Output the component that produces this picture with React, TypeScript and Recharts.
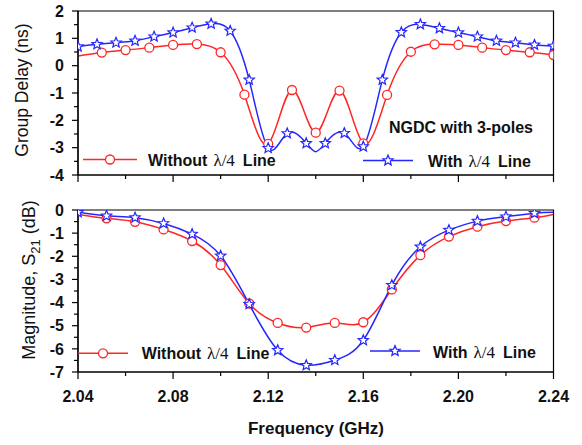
import React from 'react';
import { LineChart, Line, XAxis, YAxis, ReferenceArea } from 'recharts';

const RED = '#ff2626';
const BLUE = '#2626ff';
const FONT = '"Liberation Sans", Arial, sans-serif';

// Frequency axis (GHz)
const freqTicks = [2.04, 2.06, 2.08, 2.1, 2.12, 2.14, 2.16, 2.18, 2.2, 2.22, 2.24];
const freqLabels = ['2.04', '2.08', '2.12', '2.16', '2.20', '2.24'];

// Group delay panel (ns)
const gdTicks = [-4, -3.5, -3, -2.5, -2, -1.5, -1, -0.5, 0, 0.5, 1, 1.5, 2];
const gdRedFreq = [2.05, 2.06, 2.07, 2.08, 2.09, 2.1, 2.11, 2.12, 2.13, 2.14, 2.15, 2.16, 2.17, 2.18, 2.19, 2.2, 2.21, 2.22, 2.23, 2.24];
const gdRedVal = [0.48, 0.57, 0.66, 0.76, 0.79, 0.49, -1.06, -2.86, -0.89, -2.45, -0.91, -2.84, -1.07, 0.51, 0.78, 0.76, 0.66, 0.57, 0.49, 0.39];
const gdRedEdgeFreq = [2.04];
const gdRedEdgeVal = [0.35];
const gdBlueFreq = [2.04, 2.048, 2.056, 2.064, 2.072, 2.08, 2.088, 2.096, 2.104, 2.112, 2.12, 2.128, 2.136, 2.144, 2.152, 2.16, 2.168, 2.176, 2.184, 2.192, 2.2, 2.208, 2.216, 2.224, 2.232, 2.24];
const gdBlueVal = [0.7, 0.78, 0.84, 0.91, 1.06, 1.21, 1.39, 1.53, 1.27, -0.52, -3.02, -2.48, -2.84, -2.84, -2.47, -2.96, -0.52, 1.22, 1.51, 1.37, 1.21, 1.06, 0.91, 0.84, 0.76, 0.72];
const gdBlueDipFreq = [2.14];
const gdBlueDipVal = [-3.15];

// Magnitude panel (dB)
const magTicks = [-7, -6.5, -6, -5.5, -5, -4.5, -4, -3.5, -3, -2.5, -2, -1.5, -1, -0.5, 0];
const magRedFreq = [2.052, 2.064, 2.076, 2.088, 2.1, 2.112, 2.124, 2.136, 2.148, 2.16, 2.172, 2.184, 2.196, 2.208, 2.22, 2.232];
const magRedVal = [-0.36, -0.51, -0.84, -1.34, -2.38, -4.04, -4.88, -5.08, -4.88, -4.85, -3.43, -1.95, -1.15, -0.72, -0.48, -0.33];
const magRedEdgeFreq = [2.04, 2.24];
const magRedEdgeVal = [-0.19, -0.19];
const magBlueFreq = [2.04, 2.052, 2.064, 2.076, 2.088, 2.1, 2.112, 2.124, 2.136, 2.148, 2.16, 2.172, 2.184, 2.196, 2.208, 2.22, 2.232];
const magBlueVal = [-0.1, -0.25, -0.33, -0.58, -1.04, -1.98, -4.07, -6.06, -6.71, -6.49, -5.63, -3.25, -1.59, -0.87, -0.48, -0.29, -0.14];
const magBlueEdgeFreq = [2.24];
const magBlueEdgeVal = [-0.1];

type Pt = { f: number; v: number };
const toPts = (fs: number[], vs: number[]): Pt[] => fs.map((f, i) => ({ f, v: vs[i] }));
const merge = (a: Pt[], b: Pt[]): Pt[] => [...a, ...b].sort((p, q) => p.f - q.f);

const gdRedMarks = toPts(gdRedFreq, gdRedVal);
const gdRedCurve = merge(gdRedMarks, toPts(gdRedEdgeFreq, gdRedEdgeVal));
const gdBlueMarks = toPts(gdBlueFreq, gdBlueVal);
const gdBlueCurve = merge(gdBlueMarks, toPts(gdBlueDipFreq, gdBlueDipVal));
const magRedMarks = toPts(magRedFreq, magRedVal);
const magRedCurve = merge(magRedMarks, toPts(magRedEdgeFreq, magRedEdgeVal));
const magBlueMarks = toPts(magBlueFreq, magBlueVal);
const magBlueCurve = merge(magBlueMarks, toPts(magBlueEdgeFreq, magBlueEdgeVal));

function starPoints(cx: number, cy: number, ro: number, ri: number) {
  const pts: string[] = [];
  for (let i = 0; i < 10; i++) {
    const r = i % 2 === 0 ? ro : ri;
    const a = -Math.PI / 2 + (i * Math.PI) / 5;
    pts.push(`${(cx + r * Math.cos(a)).toFixed(2)},${(cy + r * Math.sin(a)).toFixed(2)}`);
  }
  return pts.join(' ');
}

const StarDot = (props: any) => {
  const { cx, cy } = props;
  if (cx == null || cy == null) return <g key={props.index} />;
  return <polygon key={props.index} points={starPoints(cx, cy, 5.4, 2.4)} fill="#fff" stroke={BLUE} strokeWidth={1.2} />;
};
const CircleDot = (props: any) => {
  const { cx, cy } = props;
  if (cx == null || cy == null) return <g key={props.index} />;
  return <circle key={props.index} cx={cx} cy={cy} r={4.5} fill="#fff" stroke={RED} strokeWidth={1.3} />;
};

const XTick = (props: any) => {
  const { x, y, payload, showLabel } = props;
  const v = payload.value as number;
  const hundred = Math.round(v * 100);
  const major = hundred % 4 === 0;
  const label = (v).toFixed(2);
  return (
    <g>
      <line x1={x} y1={y} x2={x} y2={y + (major ? 7 : 4)} stroke="#000" strokeWidth={1.2} />
      {showLabel && major && freqLabels.includes(label) ? (
        <text x={x} y={y + 29.5} textAnchor="middle" fontFamily={FONT} fontWeight="bold" fontSize={16} fill="#111">
          {label}
        </text>
      ) : null}
    </g>
  );
};

const YTick = (props: any) => {
  const { x, y, payload } = props;
  const v = payload.value as number;
  const major = Number.isInteger(v);
  return (
    <g>
      <line x1={x} y1={y} x2={x - (major ? 6 : 4)} y2={y} stroke="#000" strokeWidth={1.2} />
      {major ? (
        <text x={x - 14} y={y + 5.7} textAnchor="end" fontFamily={FONT} fontWeight="bold" fontSize={16} fill="#111">
          {String(v)}
        </text>
      ) : null}
    </g>
  );
};

const axisLine = { stroke: '#000', strokeWidth: 1.2 };

const series = (red: Pt[], redM: Pt[], blue: Pt[], blueM: Pt[]) => [
  <Line key="rc" data={red} dataKey="v" type="natural" stroke={RED} strokeWidth={1.5} dot={false} isAnimationActive={false} />,
  <Line key="rm" data={redM} dataKey="v" stroke="none" dot={(p: any) => <CircleDot key={'r' + p.index} {...p} />} isAnimationActive={false} />,
  <Line key="bc" data={blue} dataKey="v" type="natural" stroke={BLUE} strokeWidth={1.5} dot={false} isAnimationActive={false} />,
  <Line key="bm" data={blueM} dataKey="v" stroke="none" dot={(p: any) => <StarDot key={'b' + p.index} {...p} />} isAnimationActive={false} />,
];

const LegendItem = ({ x1, x2, y, tx, ty, kind }: any) => (
  <g>
    <line x1={x1} y1={y} x2={x2} y2={y} stroke={kind === 'red' ? RED : BLUE} strokeWidth={1.5} />
    {kind === 'red' ? (
      <circle cx={(x1 + x2) / 2} cy={y} r={4.5} fill="#fff" stroke={RED} strokeWidth={1.3} />
    ) : (
      <polygon points={starPoints((x1 + x2) / 2, y, 5.4, 2.4)} fill="#fff" stroke={BLUE} strokeWidth={1.2} />
    )}
    <text x={tx} y={ty} fontFamily={FONT} fontWeight="bold" fontSize={16} fill="#111">
      {kind === 'red' ? 'Without' : 'With'}
      <tspan dx={6} fontFamily='"Liberation Serif", serif' fontWeight="normal" fontSize={17}>λ/4</tspan>
      <tspan dx={8}>Line</tspan>
    </text>
  </g>
);

export default function App() {
  return (
    <div style={{ position: 'absolute', left: 0, top: 0, width: 582, height: 445, background: '#fff' }}>
      <div style={{ position: 'absolute', left: 0, top: 0 }}>
        <LineChart width={582} height={200} margin={{ top: 11, right: 28.5, bottom: 0, left: 0 }}>
          <XAxis type="number" dataKey="f" domain={[2.04, 2.24]} ticks={freqTicks} interval={0} tickSize={0} tickMargin={0} tickLine={false} tick={<XTick showLabel={false} />} height={25} axisLine={axisLine} allowDataOverflow />
          <YAxis type="number" domain={[-4, 2]} ticks={gdTicks} interval={0} width={78} tickSize={0} tickMargin={0} tickLine={false} tick={<YTick />} axisLine={axisLine} allowDataOverflow />
          <ReferenceArea x1={2.04} x2={2.24} y1={-4} y2={2} fill="none" fillOpacity={0} stroke="#000" strokeWidth={1.2} ifOverflow="visible" />
          {series(gdRedCurve, gdRedMarks, gdBlueCurve, gdBlueMarks)}
        </LineChart>
      </div>
      <div style={{ position: 'absolute', left: 0, top: 200 }}>
        <LineChart width={582} height={245} margin={{ top: 10, right: 28.5, bottom: 0, left: 0 }}>
          <XAxis type="number" dataKey="f" domain={[2.04, 2.24]} ticks={freqTicks} interval={0} tickSize={0} tickMargin={0} tickLine={false} tick={<XTick showLabel={true} />} height={73} axisLine={axisLine} allowDataOverflow />
          <YAxis type="number" domain={[-7, 0]} ticks={magTicks} interval={0} width={78} tickSize={0} tickMargin={0} tickLine={false} tick={<YTick />} axisLine={axisLine} allowDataOverflow />
          <ReferenceArea x1={2.04} x2={2.24} y1={-7} y2={0} fill="none" fillOpacity={0} stroke="#000" strokeWidth={1.2} ifOverflow="visible" />
          {series(magRedCurve, magRedMarks, magBlueCurve, magBlueMarks)}
        </LineChart>
      </div>
      <svg width={582} height={445} style={{ position: 'absolute', left: 0, top: 0, pointerEvents: 'none' }}>
        <text transform="translate(27.5,90) rotate(-90)" textAnchor="middle" fontFamily={FONT} fontSize={17.5} fill="#111">
          Group Delay (ns)
        </text>
        <text transform="translate(35,280) rotate(-90)" textAnchor="middle" fontFamily={FONT} fontSize={18} fill="#111">
          Magnitude, S<tspan dy={5} fontSize={13}>21</tspan><tspan dy={-5}> (dB)</tspan>
        </text>
        <text x={316} y={434} textAnchor="middle" fontFamily={FONT} fontWeight="bold" fontSize={17} fill="#111">
          Frequency (GHz)
        </text>
        <text x={389} y={133.3} fontFamily={FONT} fontWeight="bold" fontSize={16} fill="#111">
          NGDC with 3-poles
        </text>
        <LegendItem kind="red" x1={83} x2={137} y={159.5} tx={148} ty={165.5} />
        <LegendItem kind="blue" x1={363} x2={413} y={160.5} tx={428} ty={166.5} />
        <LegendItem kind="red" x1={78} x2={128} y={353.3} tx={141.7} ty={358.8} />
        <LegendItem kind="blue" x1={370} x2={420} y={351} tx={433} ty={358.3} />
      </svg>
    </div>
  );
}
